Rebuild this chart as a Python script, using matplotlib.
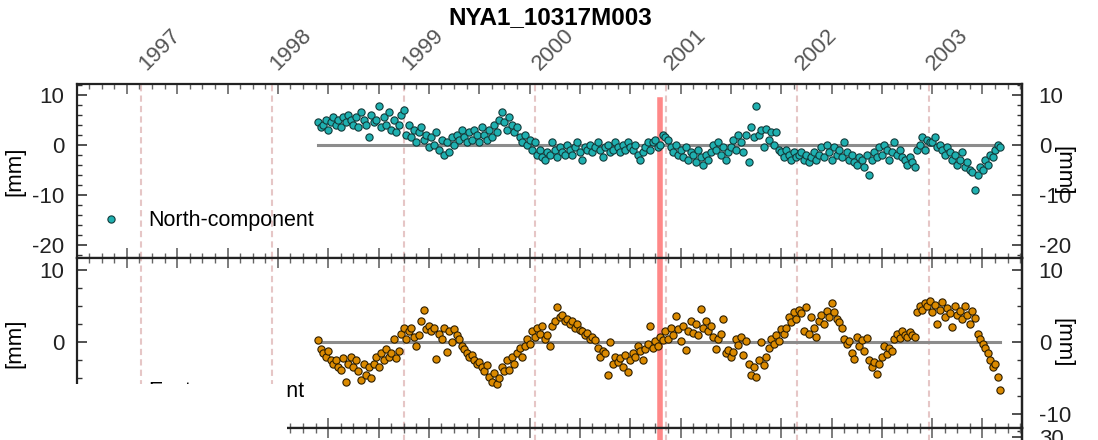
import numpy as np
import matplotlib
matplotlib.use("Agg")
import matplotlib.pyplot as plt
from matplotlib.ticker import MultipleLocator, FixedLocator
from matplotlib.patches import Rectangle

plt.rcParams["font.family"] = ["Liberation Sans", "DejaVu Sans"]
plt.rcParams["axes.unicode_minus"] = False

TITLE = "NYA1_10317M003"
YEARS = [1997, 1998, 1999, 2000, 2001, 2002, 2003]
START_EPOCH = 1998.35          # first weekly solution (decimal year)
WEEK = 7 / 365.25
EVENT_EPOCH = 2000.955         # red marker line

# weekly north component [mm]
north = [
    4.5, 3.5, 4.0, 5.0, 3.0, 4.5, 5.5, 4.0, 5.0, 3.5,
    5.5, 4.5, 6.0, 5.0, 4.0, 5.5, 3.5, 6.5, 5.0, 4.0,
    1.6, 6.0, 4.5, 5.0, 7.8, 3.5, 5.5, 4.0, 6.5, 3.0,
    5.0, 2.5, 4.0, 6.0, 7.0,
    2.0, 4.0, 1.5, 3.0, 0.5, 2.5, 3.5, 1.0, 2.0, -0.5,
    1.5, 0.0, 2.5, -1.0, 1.0, -2.0, 0.5, -1.5, 1.5, 0.0,
    2.0, 1.0, 3.0, 1.5, 0.5, 2.5, 1.0, 3.0, 2.0, 0.5,
    3.5, 2.0, 1.0, 3.0, 1.5, 4.0, 2.5, 5.0, 6.5, 4.5,
    3.0, 5.5, 4.0, 2.5, 3.5, 1.5, 0.5, 2.0, 0.0, 1.0,
    -1.0, 0.5,
    -2.0, -1.0, -2.5, -3.0, -1.5, -2.0, 0.5, -1.0, -2.5, -0.5,
    -1.5, -2.0, 0.0, -1.0, -2.0, -0.5, 0.5, -1.5, -3.0, -0.5,
    -1.0, 0.0, -1.5, -0.5, 0.5, -1.0, -2.5, -0.5, 0.0, -1.5,
    -1.0, 0.5, -0.5, -1.5, 0.0, -1.0, 0.5, -0.5, -1.0, 0.0,
    -2.0, -3.0, -1.5, -0.5, 0.5, -1.0, 0.5, 1.0, -0.5, 0.0,
    2.0, 1.5,
    1.0, -0.5, -1.5, 0.0, -2.0, -1.0, -2.5, -0.5, -3.0, -1.5,
    -2.0, -3.5, -1.0, -2.5, -4.0, -2.0, -3.0, -1.5, 0.0, -1.0,
    0.5, -2.0, -0.5, -3.0, -1.5, -0.5, 1.0, -1.0, 2.0, 0.5,
    -1.5, 2.0, -3.5, 3.5, 1.5, 7.8, 2.0, 3.0, -0.5, 3.2,
    1.0, 2.5, 0.0, 2.6, -1.0, -1.5, -2.5, -1.0, -2.0, -3.0,
    -1.5, -2.5, -2.0,
    -1.5, -3.0, -2.0, -3.5, -2.5, -1.5, -3.0, -2.0, -0.5, -2.5,
    0.0, -1.5, -3.0, -0.5, -2.0, -1.0, -2.5, 0.5, -1.5, -3.0,
    -2.0, -3.5, -4.0, -2.5, -3.0, -4.5, -2.0, -6.0, -3.0, -1.5,
    -2.5, -0.5, -2.0, 0.0, -1.0, -3.0, -1.5, 0.5, -2.0, -1.0,
    -2.5, -3.0, -4.0, -2.5, -3.5, -4.5, -1.0, 0.0, 1.5, -1.0,
    1.0, 0.5,
    0.5, 1.5, -0.5, 0.0, -1.0, -2.0, -0.5, -1.5, -3.0, -2.0,
    -4.0, -3.0, -1.5, -4.5, -3.5, -5.0, -5.5, -9.0, -6.0, -4.5,
    -5.0, -3.0, -4.0, -2.0, -2.5, -1.0, 0.0, -0.5,
]

# weekly east component [mm]
east = [
    0.3, -1.0, -1.5, -2.0, -1.2, -2.5, -3.0, -2.5, -3.5, -3.8,
    -2.2, -5.5, -3.0, -2.0, -3.5, -2.5, -4.0, -5.2, -3.0, -4.5,
    -3.5, -5.0, -3.0, -2.0, -3.5, -1.5, -2.5, -1.0, -2.0, -1.5,
    0.5, -2.2, -1.2, 1.2, 2.0, 0.5, 1.5, 2.0, 0.8, -0.5,
    1.0, 3.0, 4.5, 1.8, 2.2, 1.5, 2.0, -2.3, 1.2, 0.5,
    2.0, -1.4, 1.5, 0.0, 1.8, 1.0, 0.5, -0.5, -1.0, -1.5,
    -2.0, -1.8, -2.5, -3.0, -2.8, -3.5, -4.0, -3.2, -4.8, -5.5,
    -4.2, -5.8, -5.0, -3.5, -4.0, -2.5, -3.8, -2.0, -3.0, -1.5,
    -0.8, -2.0, -0.5, 0.5, -0.2, 1.5, 0.8, 2.0, 1.2, 2.3,
    0.5, 1.0, -0.5, 2.2, 3.0, 4.9, 3.5, 3.8, 3.0, 3.3,
    2.5, 3.0, 2.0, 2.5, 1.7, 1.5, 1.0, 1.3, 0.5, 0.8,
    0.3, -0.8, -2.0, -1.2, -1.5, -4.6, 0.0, -3.0, -2.0, -2.8,
    -2.2, -3.5, -1.8, -4.1, -2.5, -1.5, -2.0, -0.5, -1.2, -2.5,
    -1.0, -0.3, 2.3, -0.8, 0.2, -0.5, 0.8, 0.3, 1.5, 0.5,
    2.0, 1.0, 3.7, 1.8, 0.2, 2.2, -1.1, 1.5, 3.0, 1.3,
    2.5, 1.0, 4.6, 2.0, 3.0, 1.5, 2.2, 0.8, -0.9, 0.5,
    1.2, 3.2, -1.5, -1.1, -2.0, -1.3, 0.5, -0.4, 0.8, -1.8,
    0.2, -3.0, -4.5, -3.5, -4.8, -2.5, 0.0, -3.2, -2.0, -0.8,
    0.5, -0.3, 1.0, 0.2, 1.8, 1.2, 2.0, 3.5, 2.8, 4.2,
    3.2, 4.5, 4.0, 1.6, 4.9, 1.2, 3.5, 2.0, 0.7, 3.0,
    3.8, 2.5, 4.4, 3.5, 5.4, 4.2, 3.2, 2.8, 2.0, 0.5,
    -0.3, 0.2, -1.5, -2.3, 0.7, -0.5, 0.3, -1.2, 0.6, -2.5,
    -3.5, -2.8, -4.4, -3.0, -2.0, -0.5, -1.6, -0.8, -1.2, 0.5,
    1.2, 0.6, 1.6, 1.0, 0.8, 1.4, 1.0, 0.7, 4.2, 5.0,
    4.5, 5.4, 5.0, 5.8, 4.2, 5.2, 2.6, 4.5, 5.6, 3.5,
    4.8, 4.0, 2.1, 5.0, 3.8, 4.4, 3.2, 5.0, 3.8, 2.6,
    4.4, 3.4, 1.2, 0.5, -0.3, -0.8, -1.5, -2.5, -3.4, -3.0,
    -4.8, -6.6,
]

epochs = START_EPOCH + WEEK * np.arange(len(north))

XMIN, XMAX = 1996.513, 2003.71
x_major = np.arange(1996.893, XMAX, 140 / 365.25)
x_minor = np.arange(1996.893 - 140 / 365.25, XMAX, 35 / 365.25)

W_PX, H_PX = 1098, 440
fig = plt.figure(figsize=(W_PX / 100, H_PX / 100), dpi=100)
left, right = 77 / W_PX, 1022 / W_PX
ax1 = fig.add_axes([left, 1 - 258 / H_PX, right - left, 174 / H_PX])
ax2 = fig.add_axes([left, 1 - 428 / H_PX, right - left, 170 / H_PX])
ax3 = fig.add_axes([left, 1 - 598 / H_PX, right - left, 170 / H_PX])

TICK_COLOR = "#333333"
LABEL_SIZE = 16


def style_panel(ax, ylim, major, minor, event_top=None):
    ax.set_xlim(XMIN, XMAX)
    ax.set_ylim(*ylim)
    ax.xaxis.set_major_locator(FixedLocator(x_major))
    ax.xaxis.set_minor_locator(FixedLocator(x_minor))
    ax.yaxis.set_major_locator(MultipleLocator(major))
    ax.yaxis.set_minor_locator(MultipleLocator(minor))
    ax.tick_params(axis="x", which="both", direction="in", top=True, bottom=True,
                   labelbottom=False, color="#666666")
    ax.tick_params(axis="y", which="both", direction="in", left=True, right=False,
                   labelsize=LABEL_SIZE, pad=9, color=TICK_COLOR, labelcolor="#222222")
    ax.tick_params(which="major", length=7, width=1.2)
    ax.tick_params(which="minor", length=3.5, width=1.0)
    for s in ax.spines.values():
        s.set_linewidth(1.6)
        s.set_color("#222222")

    sec = ax.secondary_yaxis("right")
    sec.yaxis.set_major_locator(MultipleLocator(major))
    sec.yaxis.set_minor_locator(MultipleLocator(minor))
    sec.tick_params(which="both", direction="in", labelsize=LABEL_SIZE, pad=12,
                    color=TICK_COLOR, labelcolor="#222222")
    sec.tick_params(which="major", length=7, width=1.2)
    sec.tick_params(which="minor", length=3.5, width=1.0)
    sec.spines["right"].set_linewidth(1.6)

    for yr in YEARS:
        ax.axvline(yr, color="#e6c6c6", lw=1.5, ls=(0, (3, 2)), zorder=0)
    if event_top is None:
        ax.axvline(EVENT_EPOCH, color="#ff7373", lw=4, alpha=0.85, zorder=1)
    else:
        frac = (event_top - ylim[0]) / (ylim[1] - ylim[0])
        ax.axvline(EVENT_EPOCH, ymax=frac, color="#ff7373", lw=4, alpha=0.85, zorder=1)
    return sec


sec1 = style_panel(ax1, (-22.6, 12.2), 10, 2, event_top=9.0)
sec2 = style_panel(ax2, (-11.9, 11.7), 10, 2.5)
sec3 = style_panel(ax3, (-40, 34), 10, 2.5)

# data
ax1.plot([epochs[0], epochs[-1]], [0, 0], color="#8c8c8c", lw=2.2, zorder=2)
ax1.plot(epochs, north, ls="none", marker="o", ms=5.2, mfc="#1fb0b0",
         mec="#123a3a", mew=0.8, zorder=3, label="North-component")
ax2.plot([epochs[0], epochs[-1]], [0, 0], color="#8c8c8c", lw=2.2, zorder=2)
ax2.plot(epochs, east, ls="none", marker="o", ms=5.2, mfc="#db8a00",
         mec="#2e1e00", mew=0.8, zorder=3, label="East-component")

for ax in (ax1, ax2):
    ax.legend(loc="center left", bbox_to_anchor=(0.025, 0.215), frameon=False,
              fontsize=15.5, handlelength=1.0, handletextpad=1.2, borderpad=0,
              borderaxespad=0, markerscale=1.0)

for ax, sec in ((ax1, sec1), (ax2, sec2)):
    ax.set_ylabel("[mm]", fontsize=LABEL_SIZE)
    ax.yaxis.set_label_coords(-0.055, 0.5)
    sec.set_ylabel("[mm]", fontsize=LABEL_SIZE, rotation=270, va="center")
    sec.yaxis.set_label_coords(1.043, 0.5, transform=ax.transAxes)

# year labels on top
for yr in YEARS:
    ax1.annotate(str(yr), xy=(yr, 1), xycoords=("data", "axes fraction"),
                 xytext=(9, 9), textcoords="offset pixels", rotation=45,
                 rotation_mode="anchor", ha="left", va="bottom",
                 fontsize=LABEL_SIZE, color="#555555")

fig.text(0.501, 1 - 18 / H_PX, TITLE, ha="center", va="center",
         fontsize=17.5, fontweight="bold")

# blank patch over the lower left corner, as in the source image
fig.add_artist(Rectangle((0, 0), 287 / W_PX, 56 / H_PX, transform=fig.transFigure,
                         facecolor="white", edgecolor="none", zorder=10))

fig.savefig("out.png", dpi=100)
